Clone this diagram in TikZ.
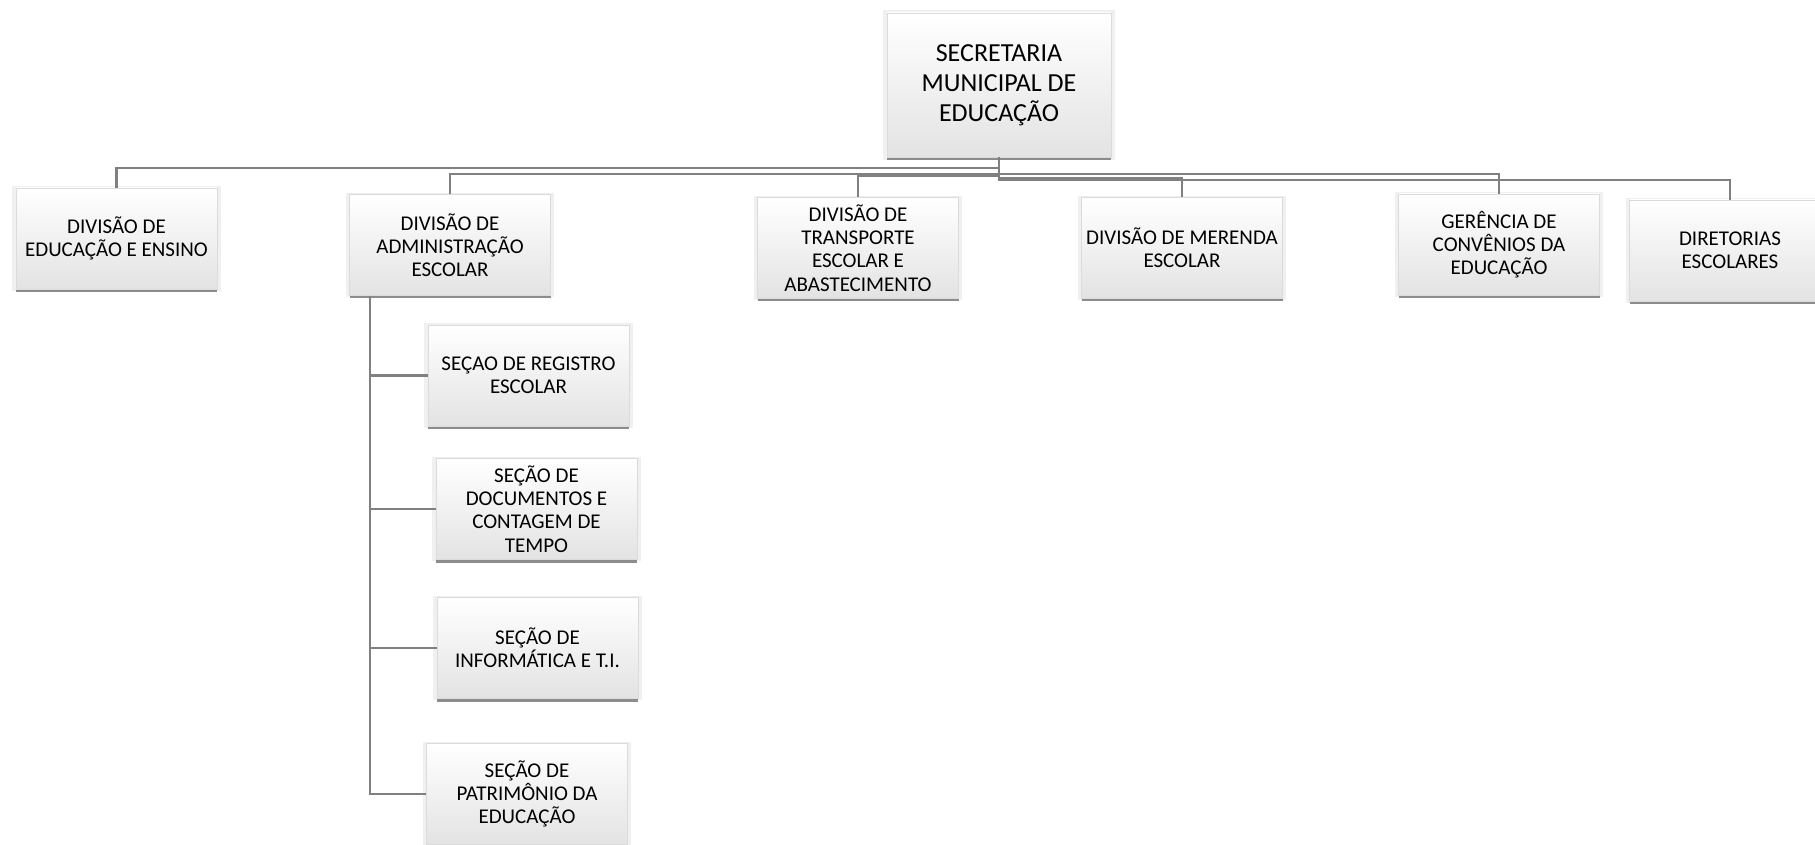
\documentclass[tikz,border=0pt]{standalone}
\usepackage{fontspec}
\setmainfont{Carlito}
\usetikzlibrary{shadows}

\begin{document}
\begin{tikzpicture}[x=0.5pt,y=-0.5pt,
  box/.style={draw=black!14,line width=0.4pt,top color=white,bottom color=black!11,
    minimum width=100.5pt,minimum height=50.5pt,align=center,inner sep=0pt,
    font=\fontsize{10.5}{11.6}\selectfont,
    general shadow={fill=black!6,shadow scale=1.035},
    general shadow={fill=black!45,shadow xshift=0pt,shadow yshift=-1.5pt}},
  bigbox/.style={box,minimum width=112pt,minimum height=72pt,
    font=\fontsize{13}{15}\selectfont},
  conn/.style={draw=gray,line width=1.1pt}]
\useasboundingbox (0,0) rectangle (1815,845);

\node (sec) [bigbox] at (999,85) {SECRETARIA\\MUNICIPAL DE\\EDUCAÇÃO};

\node (edu) [box] at (116.5,238.5) {DIVISÃO DE\\EDUCAÇÃO E ENSINO};
\node (adm) [box] at (450,245) {DIVISÃO DE\\ADMINISTRAÇÃO\\ESCOLAR};
\node (tra) [box] at (858,248) {DIVISÃO DE\\TRANSPORTE\\ESCOLAR E\\ABASTECIMENTO};
\node (mer) [box] at (1182,248) {DIVISÃO DE MERENDA\\ESCOLAR};
\node (ger) [box] at (1499,244.5) {GERÊNCIA DE\\CONVÊNIOS DA\\EDUCAÇÃO};
\node (dir) [box] at (1730,250.5) {DIRETORIAS\\ESCOLARES};

\node (reg) [box] at (528.5,375.5) {SEÇAO DE REGISTRO\\ESCOLAR};
\node (doc) [box] at (536.5,509) {SEÇÃO DE\\DOCUMENTOS E\\CONTAGEM DE\\TEMPO};
\node (inf) [box] at (537.5,648) {SEÇÃO DE\\INFORMÁTICA E T.I.};
\node (pat) [box] at (527,794) {SEÇÃO DE\\PATRIMÔNIO DA\\EDUCAÇÃO};

\draw[conn] (sec.south) -- ++(0,11) -| (edu.north);
\draw[conn] (sec.south) -- ++(0,17) -| (adm.north);
\draw[conn] (sec.south) -- ++(0,19) -| (tra.north);
\draw[conn] (sec.south) -- ++(0,21) -| (mer.north);
\draw[conn] (sec.south) -- ++(0,17) -| (ger.north);
\draw[conn] (sec.south) -- ++(0,23) -| (dir.north);

\coordinate (spine) at ([xshift=10.5pt]adm.south west);
\draw[conn] (spine) |- (reg.west);
\draw[conn] (spine) |- (doc.west);
\draw[conn] (spine) |- (inf.west);
\draw[conn] (spine) |- (pat.west);
\end{tikzpicture}
\end{document}
